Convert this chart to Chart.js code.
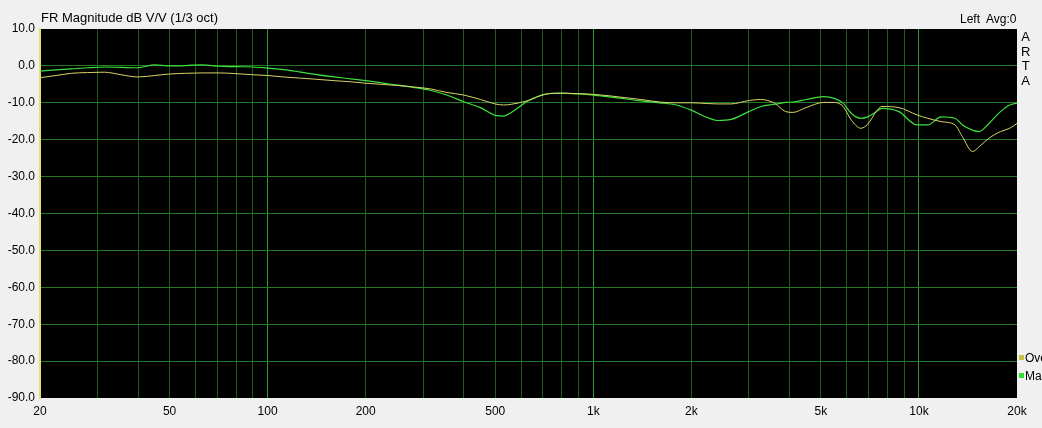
<!DOCTYPE html>
<html>
<head>
<meta charset="utf-8">
<script src="https://cdn.jsdelivr.net/npm/chart.js@4.4.1/dist/chart.umd.min.js"></script>
<style>
  html, body { margin: 0; padding: 0; background: #f0f0f0; }
  #wrap { position: relative; width: 1042px; height: 428px; overflow: hidden; font-family: "Liberation Sans", Arial, sans-serif; }
  #wrap canvas { position: absolute; left: 0; top: 0; }
  .txt { position: absolute; font-size: 12px; color: #000; white-space: nowrap; }
  .leg { position: absolute; font-size: 12px; color: #000; white-space: nowrap; }
  .leg span { display: inline-block; width: 5px; height: 5px; margin-right: 1px; vertical-align: 2px; }
</style>
</head>
<body>
<div id="wrap">
  <canvas id="frChart" width="1042" height="428"></canvas>
  <div class="txt" style="left:41px; top:10px; font-size:13px;">FR Magnitude dB V/V (1/3 oct)</div>
  <div class="txt" style="left:960px; top:12px;">Left&nbsp; Avg:0</div>
  <div class="txt" style="left:1021px; top:30px; line-height:14.5px; text-align:center; font-size:13px;">A<br>R<br>T<br>A</div>
  <div class="leg" style="left:1019px; top:351px;"><span style="background:#c8c040"></span>Overall</div>
  <div class="leg" style="left:1019px; top:369px;"><span style="background:#30e030"></span>Main</div>
</div>
<script>
// ---------- DATA ----------
const freqs = [20, 22.4, 25, 28, 31.5, 35.5, 40, 45, 50, 56, 63, 71, 80, 90, 100, 112, 125, 140, 160, 180,
    200, 224, 250, 280, 315, 355, 400, 450, 500, 530, 560, 630, 710, 800, 900, 1000, 1120, 1250, 1400, 1600,
    1800, 2000, 2240, 2400, 2650, 3000, 3270, 3600, 3900, 4100, 4500, 5100, 5500, 5850, 6200, 6630, 6960,
    7390, 7700, 8680, 9870, 10640, 11700, 12900, 13600, 14600, 15300, 16400, 17800, 19000, 20000];

const overallDb = [-3.2, -2.6, -2.0, -1.8, -1.7, -2.4, -3.0, -2.6, -2.2, -2.0, -1.9, -1.9, -2.1, -2.4, -2.6, -3.0, -3.3, -3.6, -4.0, -4.3,
    -4.7, -5.0, -5.3, -5.7, -6.2, -7.2, -7.9, -9.1, -10.3, -10.6, -10.4, -9.4, -7.7, -7.4, -7.5, -7.7, -8.1, -8.6, -9.1, -9.8,
    -10.0, -10.0, -10.2, -10.3, -10.3, -9.4, -9.1, -10.1, -12.4, -12.6, -11.3, -9.9, -9.9, -11.0, -14.7, -16.9, -15.8,
    -12.4, -11.0, -11.3, -13.3, -14.2, -15.1, -16.0, -19.2, -23.2, -21.9, -19.6, -17.8, -16.9, -15.6];

const mainDb = [-1.4, -1.1, -0.8, -0.5, -0.3, -0.4, -0.5, 0.3, 0.0, 0.1, 0.3, -0.1, -0.2, -0.3, -0.6, -1.0, -1.6, -2.3, -3.0, -3.5,
    -4.0, -4.6, -5.2, -5.8, -6.6, -7.9, -9.7, -11.3, -13.4, -13.6, -12.6, -9.5, -7.7, -7.4, -7.6, -7.9, -8.4, -8.9, -9.5, -10.0,
    -10.6, -12.0, -14.0, -14.8, -14.5, -12.4, -11.0, -10.4, -9.9, -9.8, -9.1, -8.3, -8.8, -10.1, -12.9, -14.2, -13.8,
    -12.4, -11.5, -12.4, -16.0, -16.0, -13.8, -14.2, -16.0, -17.4, -17.8, -15.6, -12.4, -10.6, -10.1];

const xTickLabels = [20, 50, 100, 200, 500, 1000, 2000, 5000, 10000, 20000];
const yTicks = [10, 0, -10, -20, -30, -40, -50, -60, -70, -80, -90];

// ---------- PLOT BACKGROUND ----------
const blackArea = {
    id: 'blackArea',
    beforeDraw(chart) {
        const a = chart.chartArea;
        const ctx = chart.ctx;
        ctx.save();
        ctx.fillStyle = '#000';
        ctx.fillRect(a.left, a.top, a.right - a.left, a.bottom - a.top);
        ctx.restore();
    }
};

function fmtFreq(v) {
    if (v >= 1000) return (v / 1000) + 'k';
    return String(v);
}

function isDecade(v) {
    const l = Math.log10(v);
    return Math.abs(l - Math.round(l)) < 1e-6;
}

const ctx = document.getElementById('frChart').getContext('2d');
new Chart(ctx, {
    type: 'line',
    data: {
        datasets: [{
            label: 'Overall',
            data: freqs.map((f, i) => ({ x: f, y: overallDb[i] })),
            borderColor: '#d8d468',
            borderWidth: 1,
            pointRadius: 0,
            cubicInterpolationMode: 'monotone'
        }, {
            label: 'Main',
            data: freqs.map((f, i) => ({ x: f, y: mainDb[i] })),
            borderColor: '#3ee03e',
            borderWidth: 1.2,
            pointRadius: 0,
            cubicInterpolationMode: 'monotone'
        }]
    },
    options: {
        responsive: false,
        animation: false,
        layout: { padding: { top: 29, right: 25, left: 0, bottom: 0 } },
        plugins: { legend: { display: false }, tooltip: { enabled: false } },
        scales: {
            x: {
                type: 'logarithmic',
                min: 20,
                max: 20000,
                afterFit: s => { s.height = 30; },
                afterBuildTicks: s => {
                    const t = [];
                    for (let d = 10; d <= 10000; d *= 10) {
                        for (let m = 1; m <= 9; m++) {
                            const v = d * m;
                            if (v >= 20 && v <= 20000) t.push({ value: v });
                        }
                    }
                    s.ticks = t;
                },
                border: { display: false },
                grid: {
                    color: c => {
                        const v = c.tick ? c.tick.value : 0;
                        if (v <= 20 || v >= 20000) return 'rgba(0,0,0,0)';
                        return isDecade(v) ? '#2c9a2c' : '#1d5c1d';
                    },
                    lineWidth: 1,
                    drawTicks: false
                },
                ticks: {
                    autoSkip: false,
                    maxRotation: 0,
                    padding: 6,
                    color: '#000',
                    font: { family: 'Liberation Sans, Arial', size: 12 },
                    callback: v => xTickLabels.includes(v) ? fmtFreq(v) : ''
                }
            },
            y: {
                min: -90,
                max: 10,
                afterFit: s => { s.width = 40; },
                afterBuildTicks: s => { s.ticks = yTicks.map(v => ({ value: v })); },
                border: { color: '#e0e070', width: 2 },
                grid: {
                    color: c => (c.tick && (c.tick.value === 10 || c.tick.value === -90)) ? 'rgba(0,0,0,0)' : '#247a24',
                    lineWidth: 1,
                    drawTicks: false
                },
                ticks: {
                    padding: 5,
                    color: '#000',
                    font: { family: 'Liberation Sans, Arial', size: 12 },
                    callback: v => v.toFixed(1)
                }
            }
        }
    },
    plugins: [blackArea]
});
</script>
</body>
</html>
